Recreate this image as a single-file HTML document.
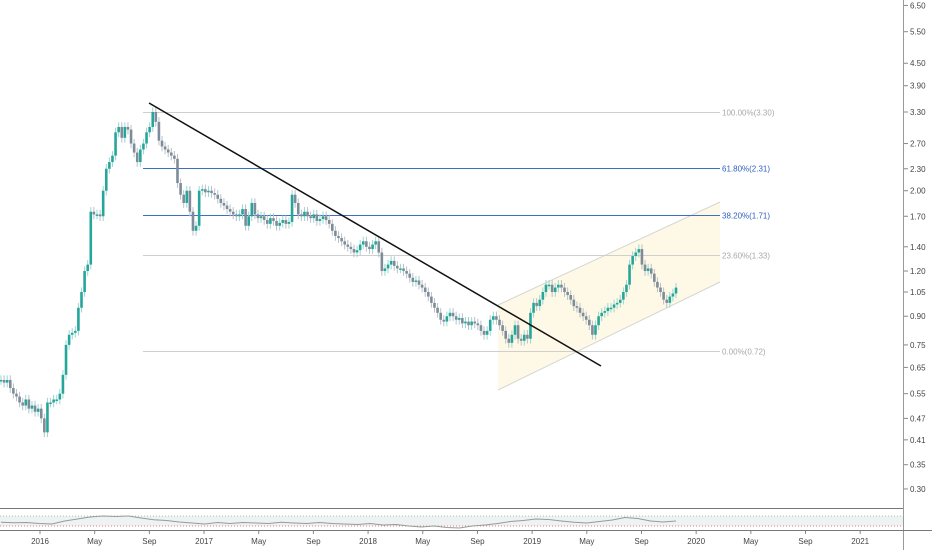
<!DOCTYPE html>
<html><head><meta charset="utf-8"><style>
html,body{margin:0;padding:0;background:#fff;width:932px;height:550px;overflow:hidden}
svg text{font-family:"Liberation Sans",sans-serif}
</style></head><body>
<svg id="c" width="932" height="550" xmlns="http://www.w3.org/2000/svg"></svg>
<script>
const closes=[0.60,0.59,0.60,0.57,0.55,0.54,0.52,0.51,0.53,0.50,0.51,0.49,0.50,
0.47,0.43,0.52,
0.52,0.53,0.53,0.55,0.62,
0.75,0.80,0.81,
0.82,0.95,1.05,1.20,1.25,
1.75,1.72,1.72,1.70,2.0,
2.3,2.4,2.5,2.9,3.0,
2.8,3.0,2.95,2.7,2.55,2.4,2.6,2.7,
2.9,3.0,3.3,3.1,2.75,2.65,2.6,2.55,2.5,2.45,
2.1,1.95,1.85,2.0,1.75,1.55,1.6,2.0,
2.02,1.98,2.0,1.97,1.95,1.9,1.85,1.82,1.78,1.75,1.72,1.7,1.72,
1.78,1.6,1.7,1.85,1.72,1.68,1.7,1.66,1.62,1.68,1.65,1.6,1.63,1.66,1.62,1.64,
1.95,1.85,1.72,1.70,1.75,1.70,1.68,1.72,1.65,1.67,1.70,1.66,1.62,
1.55,1.5,1.48,1.45,1.42,1.40,1.38,1.35,1.37,1.42,1.45,1.40,1.38,1.42,1.45,1.35,
1.20,1.22,1.25,1.28,1.24,1.22,
1.22,1.20,1.18,1.15,1.12,1.13,1.10,1.08,1.05,1.02,0.98,0.95,0.92,
0.88,0.87,0.9,0.92,0.9,0.88,0.89,0.86,0.87,0.85,
0.87,0.86,0.85,0.82,0.80,0.82,0.88,0.9,0.88,0.85,
0.82,0.78,0.76,0.8,0.85,0.78,0.77,0.8,0.78,0.92,
0.98,0.96,1.0,1.05,1.1,1.1,1.05,1.08,1.1,1.08,
1.05,1.03,1.0,0.96,0.95,0.92,0.9,0.88,0.85,0.80,0.85,0.90,0.92,
0.93,0.95,0.95,0.97,0.98,1.0,1.05,1.1,1.25,1.32,1.35,
1.38,1.25,1.2,1.22,1.18,1.12,1.08,1.05,1.0,0.98,1.02,1.04,1.08];
const priceTicks=[6.50,5.50,4.50,3.90,3.30,2.70,2.30,2.00,1.70,1.40,1.20,1.05,0.90,0.75,0.65,0.55,0.47,0.41,0.35,0.30];
const timeLabels=["2016","May","Sep","2017","May","Sep","2018","May","Sep","2019","May","Sep","2020","May","Sep","2021"];
const timeMonths=[0,4,8,12,16,20,24,28,32,36,40,44,48,52,56,60];
const fibLevels=[3.30,2.31,1.71,1.33,0.72];
const fibPcts=["100.00%","61.80%","38.20%","23.60%","0.00%"];
const rsi=[45,43,44,40,38,50,58,66,70,68,70,62,55,52,46,42,38,44,40,44,42,40,45,42,40,44,40,38,36,40,34,36,30,26,30,24,22,30,34,40,48,52,58,56,50,45,42,48,54,64,60,50,46,50];
const NS="http://www.w3.org/2000/svg",svg=document.getElementById('c');
function el(t,a,p){const e=document.createElementNS(NS,t);for(const k in a)e.setAttribute(k,a[k]);(p||svg).appendChild(e);return e;}
const y=v=>112+(Math.log(3.30)-Math.log(v))*157.2;
const xi=i=>1+i*(675/(closes.length-1));
const xm=m=>40+m*13.67;
// channel
let g=el('polygon',{points:"498,305 720,202 720,282 498,390",fill:"#fdf9e6",stroke:"none"});

el('line',{x1:498,y1:305,x2:720,y2:202,stroke:"#d6d6d0","stroke-width":1});
el('line',{x1:498,y1:390,x2:720,y2:282,stroke:"#d6d6d0","stroke-width":1});
// fib
fibLevels.forEach((v,i)=>{const blue=(i==1||i==2);const yy=Math.round(y(v))+0.5;
const l=el('line',{x1:143,y1:yy,x2:720,y2:yy,stroke:blue?"#3d6fc6":"#cfcfcf","stroke-width":1});

const t=el('text',{x:722,y:yy+3,"font-size":8,fill:blue?"#2f5fbf":"#a8a8a8"});t.textContent=fibPcts[i]+"("+v.toFixed(2)+")";
});
// candles
const cg=el('g',{});
closes.forEach((c,i)=>{const o=i?closes[i-1]:c;const up=c>=o;const col=up?"#26a69a":"#7e8b98";
const x=xi(i);const hi=Math.max(o,c)*1.03,lo=Math.min(o,c)*0.97;
el('line',{x1:x,y1:y(hi),x2:x,y2:y(lo),stroke:up?"#9ad6cf":"#b8c0c8","stroke-width":1},cg);
const t=Math.min(y(o),y(c)),h=Math.max(1.5,Math.abs(y(o)-y(c)));
const r=el('rect',{x:x-1.3,y:t,width:2.6,height:h,fill:col},cg);
});
// trendline
g=el('line',{x1:149,y1:103,x2:601,y2:366,stroke:"#111","stroke-width":1.5});

// price axis
el('line',{x1:903.5,y1:0,x2:903.5,y2:550,stroke:"#9a9a9a","stroke-width":1});
priceTicks.forEach(v=>{const yy=y(v);el('line',{x1:904,y1:yy,x2:908,y2:yy,stroke:"#888"});
const t=el('text',{x:910,y:yy+3,"font-size":8,fill:"#444"});t.textContent=v.toFixed(2);
});
// indicator pane
el('line',{x1:0,y1:508.5,x2:903,y2:508.5,stroke:"#777"});
el('rect',{x:0,y:516,width:903,height:10,fill:"#eef2f2"});
el('line',{x1:0,y1:516,x2:903,y2:516,stroke:"#9ccc9c","stroke-dasharray":"1,2"});
el('line',{x1:0,y1:526,x2:903,y2:526,stroke:"#e08080","stroke-dasharray":"1,2"});
const ry=v=>526-(v-30)*0.25;
g=el('polyline',{points:rsi.map((v,i)=>(1+i*675/(rsi.length-1))+","+ry(v)).join(" "),fill:"none",stroke:"#999","stroke-width":1});

el('line',{x1:0,y1:530.5,x2:932,y2:530.5,stroke:"#777"});
timeLabels.forEach((s,i)=>{const x=xm(timeMonths[i]);el('line',{x1:x,y1:531,x2:x,y2:534,stroke:"#888"});
const t=el('text',{x:x,y:544,"font-size":8,fill:"#444","text-anchor":"middle"});t.textContent=s;
});
</script>
</body></html>
